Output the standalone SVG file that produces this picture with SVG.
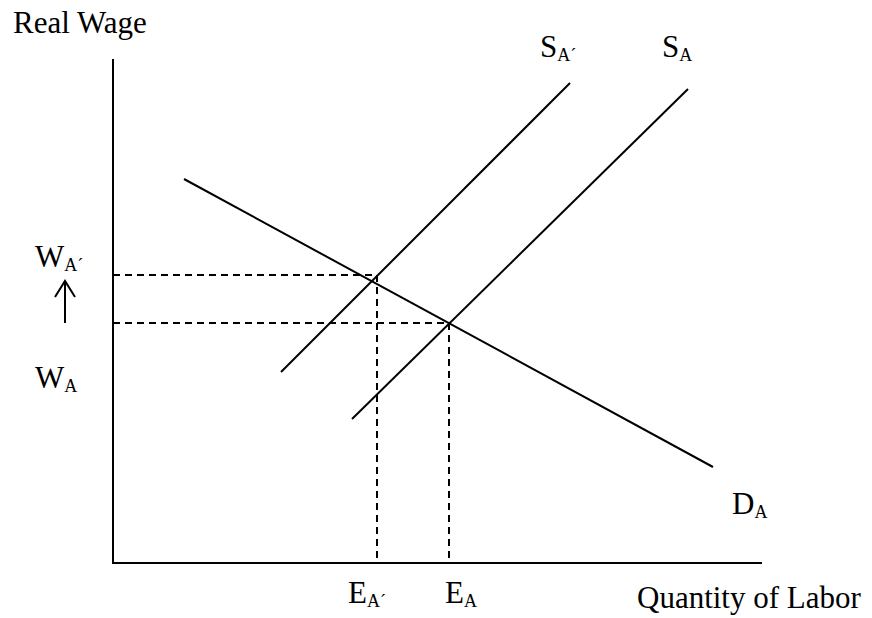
<svg xmlns="http://www.w3.org/2000/svg" width="872" height="618" viewBox="0 0 872 618">
<style>
.t{font-family:"Liberation Serif","Times New Roman",serif;font-size:31px;fill:#000}
.s{font-size:18px}
.ln{stroke:#000;stroke-width:2;fill:none}
.d{stroke:#000;stroke-width:2;fill:none;stroke-dasharray:7 5}
</style>
<rect width="872" height="618" fill="#fff"/>
<g id="axes">
<path class="ln" d="M113,59 V563 H762"/>
</g>
<g id="connectors">
<line class="d" x1="113" y1="275" x2="377" y2="275"/>
<line class="d" x1="377" y1="275" x2="377" y2="563"/>
<line class="d" x1="113" y1="323" x2="449" y2="323"/>
<line class="d" x1="449" y1="323" x2="449" y2="563"/>
<path class="ln" d="M65,323 V281 M55,297 L65,281 L75,297"/>
</g>
<g id="demand">
<line class="ln" x1="184" y1="179" x2="713" y2="467"/>
</g>
<g id="supply-prime">
<line class="ln" x1="281" y1="372" x2="570" y2="83"/>
</g>
<g id="supply">
<line class="ln" x1="352" y1="419" x2="688" y2="89"/>
</g>
<g id="labels">
<text class="t" x="13" y="33">Real Wage</text>
<text class="t" x="35" y="267">W<tspan class="s" dy="4">A´</tspan></text>
<text class="t" x="35" y="388">W<tspan class="s" dy="4">A</tspan></text>
<text class="t" x="540" y="57">S<tspan class="s" dy="4">A´</tspan></text>
<text class="t" x="662" y="57">S<tspan class="s" dy="4">A</tspan></text>
<text class="t" x="348" y="603">E<tspan class="s" dy="4">A´</tspan></text>
<text class="t" x="445" y="603">E<tspan class="s" dy="4">A</tspan></text>
<text class="t" x="732" y="514">D<tspan class="s" dy="4">A</tspan></text>
<text class="t" x="637" y="608">Quantity of Labor</text>
</g>
</svg>
